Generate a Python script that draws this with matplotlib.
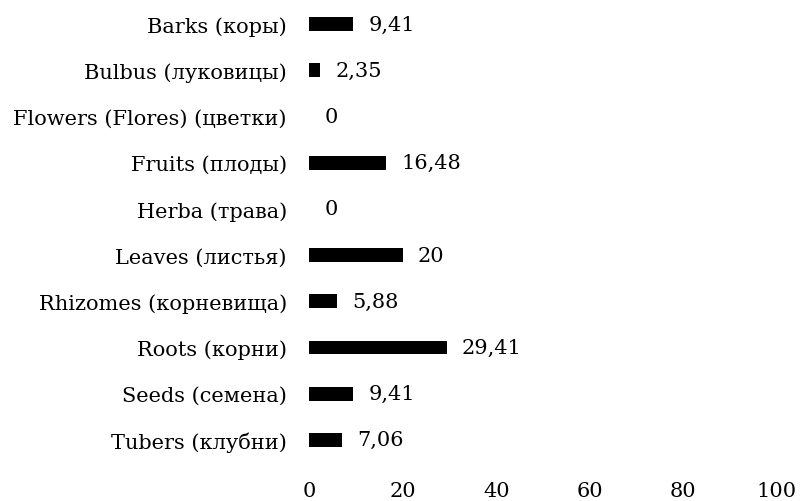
import matplotlib
matplotlib.use('Agg')
import matplotlib.pyplot as plt

# данные
categories = ['Barks (коры)', 'Bulbus (луковицы)', 'Flowers (Flores) (цветки)',
              'Fruits (плоды)', 'Herba (трава)', 'Leaves (листья)',
              'Rhizomes (корневища)', 'Roots (корни)', 'Seeds (семена)',
              'Tubers (клубни)']
values = [9.41, 2.35, 0, 16.48, 0, 20, 5.88, 29.41, 9.41, 7.06]
value_labels = ['9,41', '2,35', '0', '16,48', '0', '20', '5,88', '29,41', '9,41', '7,06']
xticks = [0, 20, 40, 60, 80, 100]

plt.rcParams['font.family'] = ['DejaVu Serif']
fs = 15

fig = plt.figure(figsize=(8.03, 5.02), dpi=100)
ax = fig.add_axes([0.3848, 0.0757, 0.5828, 0.9203])

pos = list(range(len(categories)))
ax.barh(pos, values, height=0.3, color='black')
for p, v, lab in zip(pos, values, value_labels):
    ax.annotate(lab, (v, p), xytext=(11, 0), textcoords='offset points',
                va='center', ha='left', fontsize=fs)

ax.set_xlim(0, 100)
ax.set_ylim(len(categories) - 0.5, -0.5)
ax.set_yticks(pos)
ax.set_yticklabels(categories, fontsize=fs)
ax.set_xticks(xticks)
ax.set_xticklabels([str(t) for t in xticks], fontsize=fs)
ax.tick_params(axis='both', length=0)
ax.tick_params(axis='y', pad=16)
ax.tick_params(axis='x', pad=13)
for s in ax.spines.values():
    s.set_visible(False)

fig.savefig('out.png', dpi=100)
